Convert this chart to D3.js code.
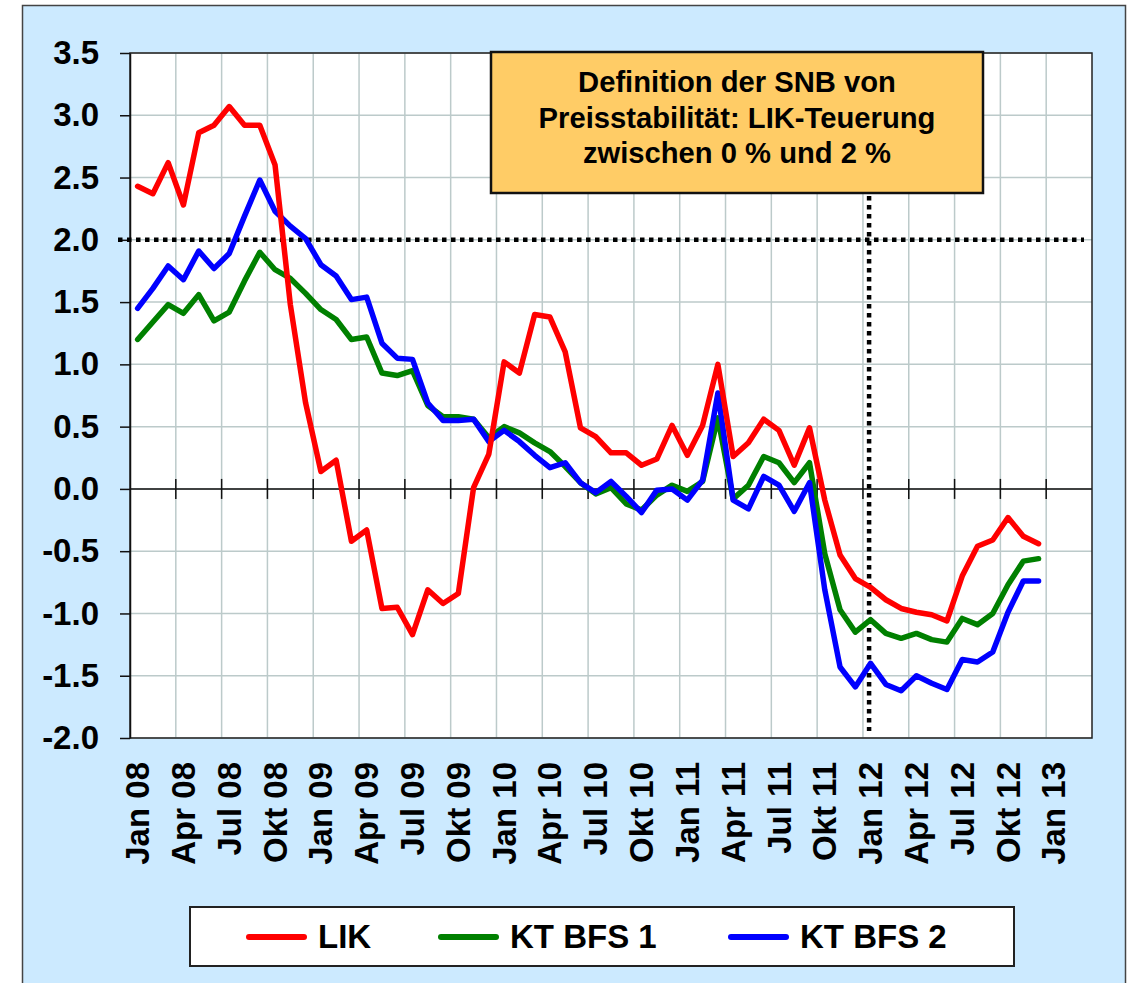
<!DOCTYPE html>
<html>
<head>
<meta charset="utf-8">
<script src="https://cdn.jsdelivr.net/npm/d3@7"></script>
<style>
    body { margin: 0; background: #fff; }
    svg text { font-family: Arial, "Liberation Sans", sans-serif; font-weight: bold; fill: #000; }
</style>
</head>
<body>
<svg id="chart"></svg>
<script>
// Month bands: Jan 08 .. Mar 13 (data runs to Dez 12)
const monthNames = ['Jan', 'Feb', 'Mär', 'Apr', 'Mai', 'Jun', 'Jul', 'Aug', 'Sep', 'Okt', 'Nov', 'Dez'];
const years = ['08', '09', '10', '11', '12', '13'];
const categories = years.flatMap(y => monthNames.map(m => m + ' ' + y)).slice(0, 63);

const tickLabels = ['Jan 08', 'Apr 08', 'Jul 08', 'Okt 08', 'Jan 09', 'Apr 09', 'Jul 09', 'Okt 09',
    'Jan 10', 'Apr 10', 'Jul 10', 'Okt 10', 'Jan 11', 'Apr 11', 'Jul 11', 'Okt 11',
    'Jan 12', 'Apr 12', 'Jul 12', 'Okt 12', 'Jan 13'];

const yTicks = [-2.0, -1.5, -1.0, -0.5, 0.0, 0.5, 1.0, 1.5, 2.0, 2.5, 3.0, 3.5];

const seriesNames = ['LIK', 'KT BFS 1', 'KT BFS 2'];
const seriesColors = ['#ff0000', '#008000', '#0000ff'];

const lik = [2.43, 2.37, 2.62, 2.28, 2.86, 2.92, 3.07, 2.92, 2.92, 2.60,
    1.48, 0.69, 0.14, 0.23, -0.42, -0.33, -0.96, -0.95, -1.17, -0.81,
    -0.92, -0.84, 0.01, 0.28, 1.02, 0.93, 1.40, 1.38, 1.10, 0.49,
    0.42, 0.29, 0.29, 0.19, 0.24, 0.51, 0.27, 0.51, 1.00, 0.26,
    0.37, 0.56, 0.47, 0.19, 0.49, -0.09, -0.53, -0.72, -0.79, -0.89,
    -0.96, -0.99, -1.01, -1.06, -0.70, -0.46, -0.41, -0.23, -0.38, -0.44];

const ktBfs1 = [1.20, 1.34, 1.48, 1.41, 1.56, 1.35, 1.42, 1.67, 1.90, 1.76,
    1.69, 1.57, 1.44, 1.36, 1.20, 1.22, 0.93, 0.91, 0.95, 0.67,
    0.58, 0.58, 0.56, 0.41, 0.50, 0.45, 0.37, 0.30, 0.18, 0.05,
    -0.04, 0.01, -0.12, -0.17, -0.05, 0.03, -0.02, 0.06, 0.57, -0.08,
    0.03, 0.26, 0.21, 0.05, 0.21, -0.52, -0.97, -1.15, -1.05, -1.16,
    -1.20, -1.16, -1.21, -1.23, -1.04, -1.09, -1.00, -0.77, -0.58, -0.56];

const ktBfs2 = [1.45, 1.61, 1.79, 1.68, 1.91, 1.77, 1.89, 2.19, 2.48, 2.23,
    2.11, 2.01, 1.80, 1.71, 1.52, 1.54, 1.17, 1.05, 1.04, 0.69,
    0.55, 0.55, 0.56, 0.38, 0.47, 0.38, 0.27, 0.17, 0.21, 0.05,
    -0.03, 0.06, -0.06, -0.19, -0.01, 0.00, -0.09, 0.07, 0.77, -0.09,
    -0.16, 0.10, 0.03, -0.18, 0.05, -0.81, -1.43, -1.59, -1.40, -1.57,
    -1.62, -1.50, -1.56, -1.61, -1.37, -1.39, -1.31, -0.99, -0.74, -0.74];

const seriesValues = [lik, ktBfs1, ktBfs2];

const noteLines = ['Definition der SNB von', 'Preisstabilität: LIK-Teuerung', 'zwischen 0 % und 2 %'];

class InflationChart {

    constructor(_config) {
        this.config = {
            parentElement: _config.parentElement,
            containerWidth: 1128,
            containerHeight: 983,
            plot: {left: 130, top: 53, right: 1092, bottom: 738},
            gridColor: '#bccaca',
            background: '#cceaff'
        };
        this.initVis();
    }

    initVis() {
        let vis = this;
        const p = vis.config.plot;

        vis.svg = d3.select(vis.config.parentElement)
            .attr('width', vis.config.containerWidth)
            .attr('height', vis.config.containerHeight);

        // outer light blue frame
        vis.svg.append('rect')
            .attr('x', 22.5).attr('y', 5.5)
            .attr('width', 1103).attr('height', 1000)
            .attr('fill', vis.config.background)
            .attr('stroke', '#444')
            .attr('stroke-width', 1.5);

        vis.xScale = d3.scaleBand()
            .domain(categories)
            .range([p.left, p.right])
            .padding(0);

        vis.yScale = d3.scaleLinear()
            .domain([-2, 3.5])
            .range([p.bottom, p.top]);

        vis.chart = vis.svg.append('g');

        vis.renderVis();
    }

    renderVis() {
        let vis = this;
        const p = vis.config.plot;
        const x = vis.xScale, y = vis.yScale;
        const bw = x.bandwidth();
        const cx = i => x(categories[i]) + bw / 2;

        // plot background
        vis.chart.append('rect')
            .attr('x', p.left).attr('y', p.top)
            .attr('width', p.right - p.left).attr('height', p.bottom - p.top)
            .attr('fill', '#fff');

        // quarterly vertical gridlines
        const gridIdx = d3.range(3, categories.length, 3);
        vis.chart.selectAll('.vgrid')
            .data(gridIdx)
            .join('line')
            .attr('class', 'vgrid')
            .attr('x1', d => x(categories[d])).attr('x2', d => x(categories[d]))
            .attr('y1', p.top).attr('y2', p.bottom)
            .attr('stroke', vis.config.gridColor)
            .attr('stroke-width', 1.5);

        // horizontal gridlines
        vis.chart.selectAll('.hgrid')
            .data(yTicks)
            .join('line')
            .attr('class', 'hgrid')
            .attr('x1', p.left).attr('x2', p.right)
            .attr('y1', d => y(d)).attr('y2', d => y(d))
            .attr('stroke', vis.config.gridColor)
            .attr('stroke-width', 1.5);

        // zero line with cross ticks
        vis.chart.append('line')
            .attr('x1', p.left).attr('x2', p.right)
            .attr('y1', y(0)).attr('y2', y(0))
            .attr('stroke', '#111').attr('stroke-width', 1.5);

        vis.chart.selectAll('.zero-tick')
            .data(gridIdx)
            .join('line')
            .attr('class', 'zero-tick')
            .attr('x1', d => x(categories[d])).attr('x2', d => x(categories[d]))
            .attr('y1', y(0) - 10).attr('y2', y(0) + 10)
            .attr('stroke', '#111').attr('stroke-width', 1.5);

        // plot frame
        vis.chart.append('rect')
            .attr('x', p.left).attr('y', p.top)
            .attr('width', p.right - p.left).attr('height', p.bottom - p.top)
            .attr('fill', 'none')
            .attr('stroke', '#222').attr('stroke-width', 1.5);

        // y axis
        const yAxis = d3.axisLeft(y)
            .tickValues(yTicks)
            .tickSize(10)
            .tickSizeOuter(0)
            .tickPadding(21)
            .tickFormat(d => d.toFixed(1));

        const yAxisG = vis.chart.append('g')
            .attr('transform', `translate(${p.left},0)`)
            .call(yAxis);
        yAxisG.attr('font-size', 33).attr('font-family', 'Arial, "Liberation Sans", sans-serif');
        yAxisG.selectAll('line').attr('stroke', '#111').attr('stroke-width', 1.5);
        yAxisG.select('.domain').attr('stroke', '#111').attr('stroke-width', 1.5);

        // x labels (rotated), every third month
        vis.chart.selectAll('.x-label')
            .data(tickLabels)
            .join('text')
            .attr('class', 'x-label')
            .attr('transform', d => `translate(${cx(categories.indexOf(d))},${p.bottom + 24}) rotate(-90)`)
            .attr('text-anchor', 'end')
            .attr('dy', '0.35em')
            .style('font-size', '33px')
            .text(d => d);

        // dotted reference lines (2 % ceiling, Jan 12)
        vis.chart.append('line')
            .attr('x1', p.left - 12).attr('x2', p.right - 8)
            .attr('y1', y(2)).attr('y2', y(2))
            .attr('stroke', '#000').attr('stroke-width', 4.5)
            .attr('stroke-dasharray', '4.5,4.5');

        const jan12 = categories.indexOf('Jan 12');
        vis.chart.append('line')
            .attr('x1', cx(jan12) - 1.5).attr('x2', cx(jan12) - 1.5)
            .attr('y1', 196).attr('y2', p.bottom - 7)
            .attr('stroke', '#000').attr('stroke-width', 4.5)
            .attr('stroke-dasharray', '4.5,4.5');

        // series (drawn green, blue, red)
        const line = d3.line()
            .x((d, i) => cx(i))
            .y(d => y(d));

        [1, 2, 0].forEach(k => {
            vis.chart.append('path')
                .datum(seriesValues[k])
                .attr('d', line)
                .attr('fill', 'none')
                .attr('stroke', seriesColors[k])
                .attr('stroke-width', 5.5)
                .attr('stroke-linejoin', 'round')
                .attr('stroke-linecap', 'round');
        });

        // annotation box
        const note = vis.chart.append('g');
        note.append('rect')
            .attr('x', 491).attr('y', 52)
            .attr('width', 492).attr('height', 141)
            .attr('fill', '#ffcc66')
            .attr('stroke', '#111').attr('stroke-width', 2.5);
        note.selectAll('text')
            .data(noteLines)
            .join('text')
            .attr('x', 737)
            .attr('y', (d, i) => 92 + i * 35.5)
            .attr('text-anchor', 'middle')
            .style('font-size', '29.2px')
            .text(d => d);

        // legend
        const legend = vis.chart.append('g');
        legend.append('rect')
            .attr('x', 190).attr('y', 907)
            .attr('width', 824).attr('height', 59)
            .attr('fill', '#fff')
            .attr('stroke', '#222').attr('stroke-width', 2);

        const legendX = [249, 441, 731];
        seriesNames.forEach((name, k) => {
            legend.append('line')
                .attr('x1', legendX[k]).attr('x2', legendX[k] + 55)
                .attr('y1', 937).attr('y2', 937)
                .attr('stroke', seriesColors[k])
                .attr('stroke-width', 6)
                .attr('stroke-linecap', 'round');
            legend.append('text')
                .attr('x', legendX[k] + 69)
                .attr('y', 948)
                .style('font-size', '33px')
                .text(name);
        });
    }
}

new InflationChart({parentElement: '#chart'});
</script>
</body>
</html>
